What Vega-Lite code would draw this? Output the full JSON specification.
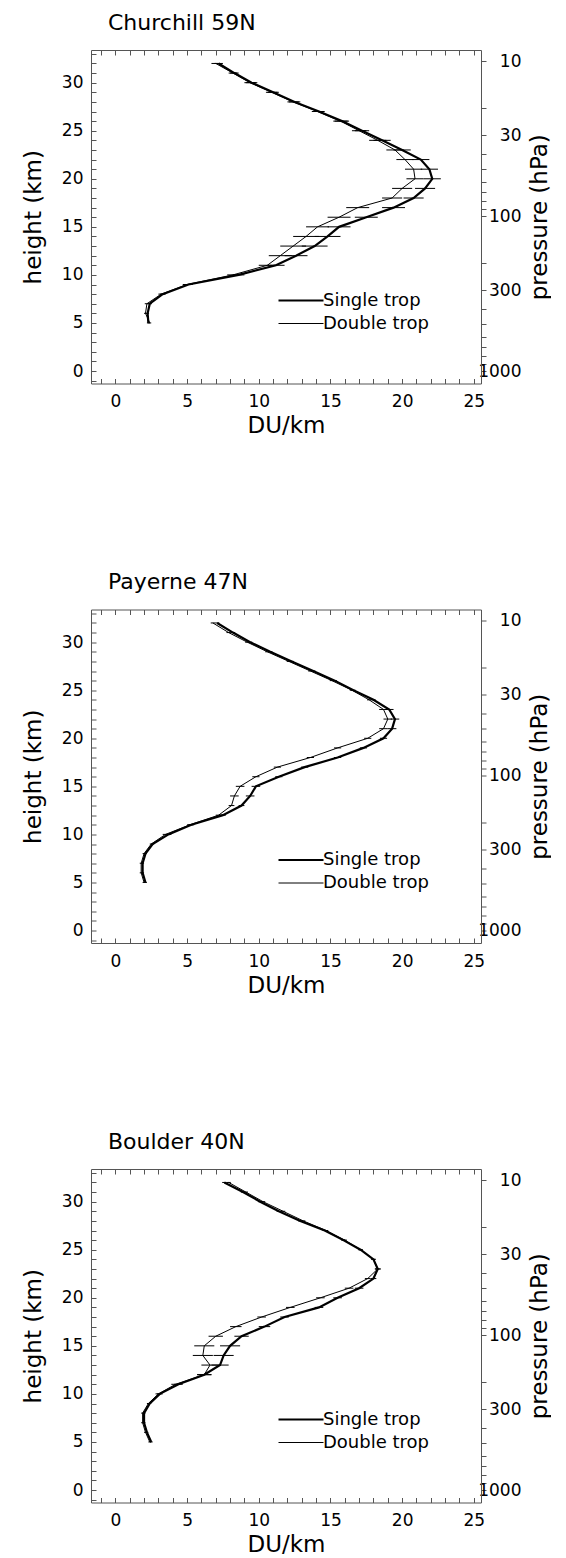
{
"$schema": "https://vega.github.io/schema/vega-lite/v6.json",
"padding": {"left": 22, "top": 11, "right": 0, "bottom": 0},
"datasets": {
"pax": [{"p": 10, "v": 0}, {"p": 1000, "v": 0}],
"prof": [
{"st":"Churchill","se":"Single trop","z":5,"v":2.3,"lo":2.2,"hi":2.4},
{"st":"Churchill","se":"Single trop","z":6,"v":2.25,"lo":2.15,"hi":2.35},
{"st":"Churchill","se":"Single trop","z":7,"v":2.4,"lo":2.25,"hi":2.55},
{"st":"Churchill","se":"Single trop","z":8,"v":3.3,"lo":3.1,"hi":3.5},
{"st":"Churchill","se":"Single trop","z":9,"v":5.1,"lo":4.8,"hi":5.4},
{"st":"Churchill","se":"Single trop","z":10,"v":8.6,"lo":8.2,"hi":9.0},
{"st":"Churchill","se":"Single trop","z":11,"v":11.2,"lo":10.6,"hi":11.8},
{"st":"Churchill","se":"Single trop","z":12,"v":12.6,"lo":11.8,"hi":13.4},
{"st":"Churchill","se":"Single trop","z":13,"v":13.9,"lo":13.0,"hi":14.8},
{"st":"Churchill","se":"Single trop","z":14,"v":14.8,"lo":13.9,"hi":15.7},
{"st":"Churchill","se":"Single trop","z":15,"v":15.6,"lo":14.8,"hi":16.4},
{"st":"Churchill","se":"Single trop","z":16,"v":17.5,"lo":16.7,"hi":18.3},
{"st":"Churchill","se":"Single trop","z":17,"v":19.4,"lo":18.6,"hi":20.2},
{"st":"Churchill","se":"Single trop","z":18,"v":20.8,"lo":20.1,"hi":21.5},
{"st":"Churchill","se":"Single trop","z":19,"v":21.6,"lo":20.9,"hi":22.3},
{"st":"Churchill","se":"Single trop","z":20,"v":22.1,"lo":21.5,"hi":22.7},
{"st":"Churchill","se":"Single trop","z":21,"v":21.9,"lo":21.3,"hi":22.5},
{"st":"Churchill","se":"Single trop","z":22,"v":21.3,"lo":20.7,"hi":21.9},
{"st":"Churchill","se":"Single trop","z":23,"v":20.0,"lo":19.4,"hi":20.6},
{"st":"Churchill","se":"Single trop","z":24,"v":18.6,"lo":18.0,"hi":19.2},
{"st":"Churchill","se":"Single trop","z":25,"v":17.2,"lo":16.7,"hi":17.7},
{"st":"Churchill","se":"Single trop","z":26,"v":15.8,"lo":15.3,"hi":16.3},
{"st":"Churchill","se":"Single trop","z":27,"v":14.2,"lo":13.8,"hi":14.6},
{"st":"Churchill","se":"Single trop","z":28,"v":12.5,"lo":12.1,"hi":12.9},
{"st":"Churchill","se":"Single trop","z":29,"v":11.0,"lo":10.6,"hi":11.4},
{"st":"Churchill","se":"Single trop","z":30,"v":9.5,"lo":9.1,"hi":9.9},
{"st":"Churchill","se":"Single trop","z":31,"v":8.3,"lo":8.0,"hi":8.6},
{"st":"Churchill","se":"Single trop","z":32,"v":7.2,"lo":6.9,"hi":7.5},
{"st":"Churchill","se":"Double trop","z":5,"v":2.4,"lo":2.3,"hi":2.5},
{"st":"Churchill","se":"Double trop","z":6,"v":2.1,"lo":2.0,"hi":2.2},
{"st":"Churchill","se":"Double trop","z":7,"v":2.2,"lo":2.05,"hi":2.35},
{"st":"Churchill","se":"Double trop","z":8,"v":3.2,"lo":3.0,"hi":3.4},
{"st":"Churchill","se":"Double trop","z":9,"v":5.0,"lo":4.7,"hi":5.3},
{"st":"Churchill","se":"Double trop","z":10,"v":8.2,"lo":7.8,"hi":8.6},
{"st":"Churchill","se":"Double trop","z":11,"v":10.6,"lo":10.0,"hi":11.2},
{"st":"Churchill","se":"Double trop","z":12,"v":11.5,"lo":10.7,"hi":12.3},
{"st":"Churchill","se":"Double trop","z":13,"v":12.4,"lo":11.5,"hi":13.3},
{"st":"Churchill","se":"Double trop","z":14,"v":13.3,"lo":12.4,"hi":14.2},
{"st":"Churchill","se":"Double trop","z":15,"v":14.1,"lo":13.3,"hi":14.9},
{"st":"Churchill","se":"Double trop","z":16,"v":15.6,"lo":14.8,"hi":16.4},
{"st":"Churchill","se":"Double trop","z":17,"v":16.9,"lo":16.1,"hi":17.7},
{"st":"Churchill","se":"Double trop","z":18,"v":19.3,"lo":18.6,"hi":20.0},
{"st":"Churchill","se":"Double trop","z":19,"v":20.0,"lo":19.3,"hi":20.7},
{"st":"Churchill","se":"Double trop","z":20,"v":20.9,"lo":20.3,"hi":21.5},
{"st":"Churchill","se":"Double trop","z":21,"v":20.8,"lo":20.2,"hi":21.4},
{"st":"Churchill","se":"Double trop","z":22,"v":20.2,"lo":19.6,"hi":20.8},
{"st":"Churchill","se":"Double trop","z":23,"v":19.5,"lo":18.9,"hi":20.1},
{"st":"Churchill","se":"Double trop","z":24,"v":18.3,"lo":17.7,"hi":18.9},
{"st":"Churchill","se":"Double trop","z":25,"v":17.0,"lo":16.5,"hi":17.5},
{"st":"Churchill","se":"Double trop","z":26,"v":15.7,"lo":15.2,"hi":16.2},
{"st":"Churchill","se":"Double trop","z":27,"v":14.1,"lo":13.7,"hi":14.5},
{"st":"Churchill","se":"Double trop","z":28,"v":12.4,"lo":12.0,"hi":12.8},
{"st":"Churchill","se":"Double trop","z":29,"v":10.9,"lo":10.5,"hi":11.3},
{"st":"Churchill","se":"Double trop","z":30,"v":9.4,"lo":9.0,"hi":9.8},
{"st":"Churchill","se":"Double trop","z":31,"v":8.2,"lo":7.9,"hi":8.5},
{"st":"Churchill","se":"Double trop","z":32,"v":7.0,"lo":6.7,"hi":7.3},
{"st":"Payerne","se":"Single trop","z":5,"v":2.1,"lo":2.0,"hi":2.2},
{"st":"Payerne","se":"Single trop","z":6,"v":1.9,"lo":1.8,"hi":2.0},
{"st":"Payerne","se":"Single trop","z":7,"v":1.9,"lo":1.8,"hi":2.0},
{"st":"Payerne","se":"Single trop","z":8,"v":2.1,"lo":2.0,"hi":2.2},
{"st":"Payerne","se":"Single trop","z":9,"v":2.6,"lo":2.5,"hi":2.7},
{"st":"Payerne","se":"Single trop","z":10,"v":3.7,"lo":3.5,"hi":3.9},
{"st":"Payerne","se":"Single trop","z":11,"v":5.3,"lo":5.1,"hi":5.5},
{"st":"Payerne","se":"Single trop","z":12,"v":7.5,"lo":7.3,"hi":7.7},
{"st":"Payerne","se":"Single trop","z":13,"v":8.8,"lo":8.6,"hi":9.0},
{"st":"Payerne","se":"Single trop","z":14,"v":9.4,"lo":9.1,"hi":9.7},
{"st":"Payerne","se":"Single trop","z":15,"v":9.8,"lo":9.5,"hi":10.1},
{"st":"Payerne","se":"Single trop","z":16,"v":11.4,"lo":11.15,"hi":11.65},
{"st":"Payerne","se":"Single trop","z":17,"v":13.2,"lo":12.95,"hi":13.45},
{"st":"Payerne","se":"Single trop","z":18,"v":15.5,"lo":15.25,"hi":15.75},
{"st":"Payerne","se":"Single trop","z":19,"v":17.3,"lo":17.05,"hi":17.55},
{"st":"Payerne","se":"Single trop","z":20,"v":18.7,"lo":18.45,"hi":18.95},
{"st":"Payerne","se":"Single trop","z":21,"v":19.3,"lo":19.0,"hi":19.6},
{"st":"Payerne","se":"Single trop","z":22,"v":19.5,"lo":19.2,"hi":19.8},
{"st":"Payerne","se":"Single trop","z":23,"v":19.1,"lo":18.8,"hi":19.4},
{"st":"Payerne","se":"Single trop","z":24,"v":18.0,"lo":17.85,"hi":18.15},
{"st":"Payerne","se":"Single trop","z":25,"v":16.6,"lo":16.45,"hi":16.75},
{"st":"Payerne","se":"Single trop","z":26,"v":15.3,"lo":15.15,"hi":15.45},
{"st":"Payerne","se":"Single trop","z":27,"v":13.8,"lo":13.65,"hi":13.95},
{"st":"Payerne","se":"Single trop","z":28,"v":12.3,"lo":12.15,"hi":12.45},
{"st":"Payerne","se":"Single trop","z":29,"v":10.8,"lo":10.65,"hi":10.95},
{"st":"Payerne","se":"Single trop","z":30,"v":9.4,"lo":9.25,"hi":9.55},
{"st":"Payerne","se":"Single trop","z":31,"v":8.2,"lo":8.05,"hi":8.35},
{"st":"Payerne","se":"Single trop","z":32,"v":7.1,"lo":6.95,"hi":7.25},
{"st":"Payerne","se":"Double trop","z":5,"v":2.0,"lo":1.9,"hi":2.1},
{"st":"Payerne","se":"Double trop","z":6,"v":1.8,"lo":1.7,"hi":1.9},
{"st":"Payerne","se":"Double trop","z":7,"v":1.8,"lo":1.7,"hi":1.9},
{"st":"Payerne","se":"Double trop","z":8,"v":2.0,"lo":1.9,"hi":2.1},
{"st":"Payerne","se":"Double trop","z":9,"v":2.5,"lo":2.4,"hi":2.6},
{"st":"Payerne","se":"Double trop","z":10,"v":3.5,"lo":3.3,"hi":3.7},
{"st":"Payerne","se":"Double trop","z":11,"v":5.2,"lo":5.0,"hi":5.4},
{"st":"Payerne","se":"Double trop","z":12,"v":7.2,"lo":7.0,"hi":7.4},
{"st":"Payerne","se":"Double trop","z":13,"v":8.1,"lo":7.9,"hi":8.3},
{"st":"Payerne","se":"Double trop","z":14,"v":8.3,"lo":8.0,"hi":8.6},
{"st":"Payerne","se":"Double trop","z":15,"v":8.7,"lo":8.4,"hi":9.0},
{"st":"Payerne","se":"Double trop","z":16,"v":9.8,"lo":9.55,"hi":10.05},
{"st":"Payerne","se":"Double trop","z":17,"v":11.3,"lo":11.05,"hi":11.55},
{"st":"Payerne","se":"Double trop","z":18,"v":13.6,"lo":13.35,"hi":13.85},
{"st":"Payerne","se":"Double trop","z":19,"v":15.5,"lo":15.25,"hi":15.75},
{"st":"Payerne","se":"Double trop","z":20,"v":17.6,"lo":17.35,"hi":17.85},
{"st":"Payerne","se":"Double trop","z":21,"v":18.7,"lo":18.4,"hi":19.0},
{"st":"Payerne","se":"Double trop","z":22,"v":19.0,"lo":18.7,"hi":19.3},
{"st":"Payerne","se":"Double trop","z":23,"v":18.7,"lo":18.4,"hi":19.0},
{"st":"Payerne","se":"Double trop","z":24,"v":17.7,"lo":17.55,"hi":17.85},
{"st":"Payerne","se":"Double trop","z":25,"v":16.5,"lo":16.35,"hi":16.65},
{"st":"Payerne","se":"Double trop","z":26,"v":15.1,"lo":14.95,"hi":15.25},
{"st":"Payerne","se":"Double trop","z":27,"v":13.6,"lo":13.45,"hi":13.75},
{"st":"Payerne","se":"Double trop","z":28,"v":12.1,"lo":11.95,"hi":12.25},
{"st":"Payerne","se":"Double trop","z":29,"v":10.6,"lo":10.45,"hi":10.75},
{"st":"Payerne","se":"Double trop","z":30,"v":9.2,"lo":9.05,"hi":9.35},
{"st":"Payerne","se":"Double trop","z":31,"v":7.9,"lo":7.75,"hi":8.05},
{"st":"Payerne","se":"Double trop","z":32,"v":6.8,"lo":6.65,"hi":6.95},
{"st":"Boulder","se":"Single trop","z":5,"v":2.5,"lo":2.4,"hi":2.6},
{"st":"Boulder","se":"Single trop","z":6,"v":2.2,"lo":2.1,"hi":2.3},
{"st":"Boulder","se":"Single trop","z":7,"v":2.0,"lo":1.9,"hi":2.1},
{"st":"Boulder","se":"Single trop","z":8,"v":2.0,"lo":1.9,"hi":2.1},
{"st":"Boulder","se":"Single trop","z":9,"v":2.4,"lo":2.3,"hi":2.5},
{"st":"Boulder","se":"Single trop","z":10,"v":3.1,"lo":2.9,"hi":3.3},
{"st":"Boulder","se":"Single trop","z":11,"v":4.4,"lo":4.1,"hi":4.7},
{"st":"Boulder","se":"Single trop","z":12,"v":6.2,"lo":5.7,"hi":6.7},
{"st":"Boulder","se":"Single trop","z":13,"v":7.3,"lo":6.7,"hi":7.9},
{"st":"Boulder","se":"Single trop","z":14,"v":7.55,"lo":6.85,"hi":8.25},
{"st":"Boulder","se":"Single trop","z":15,"v":8.0,"lo":7.3,"hi":8.7},
{"st":"Boulder","se":"Single trop","z":16,"v":8.8,"lo":8.3,"hi":9.3},
{"st":"Boulder","se":"Single trop","z":17,"v":10.4,"lo":10.0,"hi":10.8},
{"st":"Boulder","se":"Single trop","z":18,"v":11.8,"lo":11.5,"hi":12.1},
{"st":"Boulder","se":"Single trop","z":19,"v":14.2,"lo":13.9,"hi":14.5},
{"st":"Boulder","se":"Single trop","z":20,"v":15.5,"lo":15.2,"hi":15.8},
{"st":"Boulder","se":"Single trop","z":21,"v":17.0,"lo":16.7,"hi":17.3},
{"st":"Boulder","se":"Single trop","z":22,"v":18.0,"lo":17.8,"hi":18.2},
{"st":"Boulder","se":"Single trop","z":23,"v":18.3,"lo":18.1,"hi":18.5},
{"st":"Boulder","se":"Single trop","z":24,"v":18.0,"lo":17.85,"hi":18.15},
{"st":"Boulder","se":"Single trop","z":25,"v":17.1,"lo":16.95,"hi":17.25},
{"st":"Boulder","se":"Single trop","z":26,"v":15.9,"lo":15.75,"hi":16.05},
{"st":"Boulder","se":"Single trop","z":27,"v":14.6,"lo":14.45,"hi":14.75},
{"st":"Boulder","se":"Single trop","z":28,"v":12.9,"lo":12.75,"hi":13.05},
{"st":"Boulder","se":"Single trop","z":29,"v":11.4,"lo":11.25,"hi":11.55},
{"st":"Boulder","se":"Single trop","z":30,"v":10.1,"lo":9.95,"hi":10.25},
{"st":"Boulder","se":"Single trop","z":31,"v":8.9,"lo":8.75,"hi":9.05},
{"st":"Boulder","se":"Single trop","z":32,"v":7.6,"lo":7.45,"hi":7.75},
{"st":"Boulder","se":"Double trop","z":5,"v":2.4,"lo":2.3,"hi":2.5},
{"st":"Boulder","se":"Double trop","z":6,"v":2.1,"lo":2.0,"hi":2.2},
{"st":"Boulder","se":"Double trop","z":7,"v":1.9,"lo":1.8,"hi":2.0},
{"st":"Boulder","se":"Double trop","z":8,"v":1.9,"lo":1.8,"hi":2.0},
{"st":"Boulder","se":"Double trop","z":9,"v":2.3,"lo":2.2,"hi":2.4},
{"st":"Boulder","se":"Double trop","z":10,"v":3.0,"lo":2.8,"hi":3.2},
{"st":"Boulder","se":"Double trop","z":11,"v":4.2,"lo":3.9,"hi":4.5},
{"st":"Boulder","se":"Double trop","z":12,"v":6.2,"lo":5.7,"hi":6.7},
{"st":"Boulder","se":"Double trop","z":13,"v":6.6,"lo":6.0,"hi":7.2},
{"st":"Boulder","se":"Double trop","z":14,"v":6.1,"lo":5.4,"hi":6.8},
{"st":"Boulder","se":"Double trop","z":15,"v":6.2,"lo":5.5,"hi":6.9},
{"st":"Boulder","se":"Double trop","z":16,"v":7.0,"lo":6.5,"hi":7.5},
{"st":"Boulder","se":"Double trop","z":17,"v":8.4,"lo":8.0,"hi":8.8},
{"st":"Boulder","se":"Double trop","z":18,"v":10.2,"lo":9.9,"hi":10.5},
{"st":"Boulder","se":"Double trop","z":19,"v":12.2,"lo":11.9,"hi":12.5},
{"st":"Boulder","se":"Double trop","z":20,"v":14.3,"lo":14.0,"hi":14.6},
{"st":"Boulder","se":"Double trop","z":21,"v":16.3,"lo":16.0,"hi":16.6},
{"st":"Boulder","se":"Double trop","z":22,"v":17.6,"lo":17.4,"hi":17.8},
{"st":"Boulder","se":"Double trop","z":23,"v":18.3,"lo":18.1,"hi":18.5},
{"st":"Boulder","se":"Double trop","z":24,"v":18.0,"lo":17.85,"hi":18.15},
{"st":"Boulder","se":"Double trop","z":25,"v":17.1,"lo":16.95,"hi":17.25},
{"st":"Boulder","se":"Double trop","z":26,"v":16.0,"lo":15.85,"hi":16.15},
{"st":"Boulder","se":"Double trop","z":27,"v":14.7,"lo":14.55,"hi":14.85},
{"st":"Boulder","se":"Double trop","z":28,"v":13.1,"lo":12.95,"hi":13.25},
{"st":"Boulder","se":"Double trop","z":29,"v":11.7,"lo":11.55,"hi":11.85},
{"st":"Boulder","se":"Double trop","z":30,"v":10.3,"lo":10.15,"hi":10.45},
{"st":"Boulder","se":"Double trop","z":31,"v":9.1,"lo":8.95,"hi":9.25},
{"st":"Boulder","se":"Double trop","z":32,"v":7.9,"lo":7.75,"hi":8.05}
]
},
"vconcat": [
{
"title": {"text": "Churchill 59N"},
"width": 390, "height": 333.5,
"layer": [
{"data": {"name": "prof"}, "transform": [{"filter": "datum.st === 'Churchill'"}],
"layer": [
{"mark": {"type": "rule", "color": "black", "strokeWidth": 1},
"encoding": {"x": {"field": "lo", "type": "quantitative", "scale": {"domain": [-1.7, 25.5], "nice": false, "zero": false}, "axis": {"orient": "bottom", "values": [-1,0,1,2,3,4,5,6,7,8,9,10,11,12,13,14,15,16,17,18,19,20,21,22,23,24,25], "tickCount": 200, "format": "d", "labelExpr": "datum.value % 5 === 0 ? datum.label : ''", "labelOverlap": false, "tickSize": -5, "labelPadding": 15, "title": "DU/km", "titlePadding": 5}}, "x2": {"field": "hi"}, "y": {"field": "z", "type": "quantitative", "scale": {"domain": [-1.3, 33.4], "nice": false, "zero": false}, "axis": {"orient": "left", "values": [-1,0,1,2,3,4,5,6,7,8,9,10,11,12,13,14,15,16,17,18,19,20,21,22,23,24,25,26,27,28,29,30,31,32,33], "tickCount": 200, "format": "d", "labelExpr": "datum.value % 5 === 0 ? datum.label : ''", "labelOverlap": false, "tickSize": -5, "labelPadding": 13, "title": "height (km)", "titlePadding": 16}}}},
{"mark": {"type": "line", "color": "black"},
"encoding": {"x": {"field": "v", "type": "quantitative"}, "y": {"field": "z", "type": "quantitative"}, "order": {"field": "z", "type": "quantitative"},
"strokeWidth": {"field": "se", "type": "ordinal", "scale": {"domain": ["Single trop", "Double trop"], "range": [2.2, 1]}, "legend": {"orient": "none", "legendX": 186, "legendY": 239, "title": null, "symbolType": "stroke", "symbolSize": 2025, "symbolStrokeColor": "black", "labelFontSize": 18, "labelFont": "DejaVu Sans", "labelOffset": -2, "rowPadding": 0, "clipHeight": 23, "padding": 0}}}}
]},
{"data": {"name": "pax"}, "mark": {"type": "point", "opacity": 0},
"encoding": {"x": {"field": "v", "type": "quantitative", "scale": {"domain": [-1.7, 25.5], "nice": false, "zero": false}, "axis": {"orient": "top", "values": [-1,0,1,2,3,4,5,6,7,8,9,10,11,12,13,14,15,16,17,18,19,20,21,22,23,24,25], "tickCount": 200, "labels": false, "tickSize": -5, "title": null}},
"y": {"field": "p", "type": "quantitative", "scale": {"type": "log", "domain": [8.468, 1204.1], "reverse": true, "nice": false}, "axis": {"orient": "right", "values": [10,20,30,40,50,60,70,80,90,100,200,300,400,500,600,700,800,900,1000], "tickCount": 200, "format": "d", "labelExpr": "indexof([10,30,100,300,1000], datum.value) >= 0 ? datum.label : ''", "labelOverlap": false, "tickSize": 5, "labelAlign": "right", "labelPadding": 35, "title": "pressure (hPa)", "titleAngle": 270, "titleBaseline": "top", "titlePadding": 7}}}}
],
"resolve": {"scale": {"x": "independent", "y": "independent"}}
},
{
"title": {"text": "Payerne 47N"},
"width": 390, "height": 333.5,
"layer": [
{"data": {"name": "prof"}, "transform": [{"filter": "datum.st === 'Payerne'"}],
"layer": [
{"mark": {"type": "rule", "color": "black", "strokeWidth": 1},
"encoding": {"x": {"field": "lo", "type": "quantitative", "scale": {"domain": [-1.7, 25.5], "nice": false, "zero": false}, "axis": {"orient": "bottom", "values": [-1,0,1,2,3,4,5,6,7,8,9,10,11,12,13,14,15,16,17,18,19,20,21,22,23,24,25], "tickCount": 200, "format": "d", "labelExpr": "datum.value % 5 === 0 ? datum.label : ''", "labelOverlap": false, "tickSize": -5, "labelPadding": 15, "title": "DU/km", "titlePadding": 5}}, "x2": {"field": "hi"}, "y": {"field": "z", "type": "quantitative", "scale": {"domain": [-1.3, 33.4], "nice": false, "zero": false}, "axis": {"orient": "left", "values": [-1,0,1,2,3,4,5,6,7,8,9,10,11,12,13,14,15,16,17,18,19,20,21,22,23,24,25,26,27,28,29,30,31,32,33], "tickCount": 200, "format": "d", "labelExpr": "datum.value % 5 === 0 ? datum.label : ''", "labelOverlap": false, "tickSize": -5, "labelPadding": 13, "title": "height (km)", "titlePadding": 16}}}},
{"mark": {"type": "line", "color": "black"},
"encoding": {"x": {"field": "v", "type": "quantitative"}, "y": {"field": "z", "type": "quantitative"}, "order": {"field": "z", "type": "quantitative"},
"strokeWidth": {"field": "se", "type": "ordinal", "scale": {"domain": ["Single trop", "Double trop"], "range": [2.2, 1]}, "legend": {"orient": "none", "legendX": 186, "legendY": 239, "title": null, "symbolType": "stroke", "symbolSize": 2025, "symbolStrokeColor": "black", "labelFontSize": 18, "labelFont": "DejaVu Sans", "labelOffset": -2, "rowPadding": 0, "clipHeight": 23, "padding": 0}}}}
]},
{"data": {"name": "pax"}, "mark": {"type": "point", "opacity": 0},
"encoding": {"x": {"field": "v", "type": "quantitative", "scale": {"domain": [-1.7, 25.5], "nice": false, "zero": false}, "axis": {"orient": "top", "values": [-1,0,1,2,3,4,5,6,7,8,9,10,11,12,13,14,15,16,17,18,19,20,21,22,23,24,25], "tickCount": 200, "labels": false, "tickSize": -5, "title": null}},
"y": {"field": "p", "type": "quantitative", "scale": {"type": "log", "domain": [8.468, 1204.1], "reverse": true, "nice": false}, "axis": {"orient": "right", "values": [10,20,30,40,50,60,70,80,90,100,200,300,400,500,600,700,800,900,1000], "tickCount": 200, "format": "d", "labelExpr": "indexof([10,30,100,300,1000], datum.value) >= 0 ? datum.label : ''", "labelOverlap": false, "tickSize": 5, "labelAlign": "right", "labelPadding": 35, "title": "pressure (hPa)", "titleAngle": 270, "titleBaseline": "top", "titlePadding": 7}}}}
],
"resolve": {"scale": {"x": "independent", "y": "independent"}}
},
{
"title": {"text": "Boulder 40N"},
"width": 390, "height": 333.5,
"layer": [
{"data": {"name": "prof"}, "transform": [{"filter": "datum.st === 'Boulder'"}],
"layer": [
{"mark": {"type": "rule", "color": "black", "strokeWidth": 1},
"encoding": {"x": {"field": "lo", "type": "quantitative", "scale": {"domain": [-1.7, 25.5], "nice": false, "zero": false}, "axis": {"orient": "bottom", "values": [-1,0,1,2,3,4,5,6,7,8,9,10,11,12,13,14,15,16,17,18,19,20,21,22,23,24,25], "tickCount": 200, "format": "d", "labelExpr": "datum.value % 5 === 0 ? datum.label : ''", "labelOverlap": false, "tickSize": -5, "labelPadding": 15, "title": "DU/km", "titlePadding": 5}}, "x2": {"field": "hi"}, "y": {"field": "z", "type": "quantitative", "scale": {"domain": [-1.3, 33.4], "nice": false, "zero": false}, "axis": {"orient": "left", "values": [-1,0,1,2,3,4,5,6,7,8,9,10,11,12,13,14,15,16,17,18,19,20,21,22,23,24,25,26,27,28,29,30,31,32,33], "tickCount": 200, "format": "d", "labelExpr": "datum.value % 5 === 0 ? datum.label : ''", "labelOverlap": false, "tickSize": -5, "labelPadding": 13, "title": "height (km)", "titlePadding": 16}}}},
{"mark": {"type": "line", "color": "black"},
"encoding": {"x": {"field": "v", "type": "quantitative"}, "y": {"field": "z", "type": "quantitative"}, "order": {"field": "z", "type": "quantitative"},
"strokeWidth": {"field": "se", "type": "ordinal", "scale": {"domain": ["Single trop", "Double trop"], "range": [2.2, 1]}, "legend": {"orient": "none", "legendX": 186, "legendY": 239, "title": null, "symbolType": "stroke", "symbolSize": 2025, "symbolStrokeColor": "black", "labelFontSize": 18, "labelFont": "DejaVu Sans", "labelOffset": -2, "rowPadding": 0, "clipHeight": 23, "padding": 0}}}}
]},
{"data": {"name": "pax"}, "mark": {"type": "point", "opacity": 0},
"encoding": {"x": {"field": "v", "type": "quantitative", "scale": {"domain": [-1.7, 25.5], "nice": false, "zero": false}, "axis": {"orient": "top", "values": [-1,0,1,2,3,4,5,6,7,8,9,10,11,12,13,14,15,16,17,18,19,20,21,22,23,24,25], "tickCount": 200, "labels": false, "tickSize": -5, "title": null}},
"y": {"field": "p", "type": "quantitative", "scale": {"type": "log", "domain": [8.468, 1204.1], "reverse": true, "nice": false}, "axis": {"orient": "right", "values": [10,20,30,40,50,60,70,80,90,100,200,300,400,500,600,700,800,900,1000], "tickCount": 200, "format": "d", "labelExpr": "indexof([10,30,100,300,1000], datum.value) >= 0 ? datum.label : ''", "labelOverlap": false, "tickSize": 5, "labelAlign": "right", "labelPadding": 35, "title": "pressure (hPa)", "titleAngle": 270, "titleBaseline": "top", "titlePadding": 7}}}}
],
"resolve": {"scale": {"x": "independent", "y": "independent"}}
}
],
"spacing": 225.5,
"bounds": "flush",
"resolve": {"scale": {"strokeWidth": "independent"}, "legend": {"strokeWidth": "independent"}},
"config": {
"view": {"stroke": null},
"font": "DejaVu Sans",
"axis": {"domainColor": "#555555", "tickColor": "#555555", "domainWidth": 1, "tickWidth": 1, "ticks": true, "labelFont": "DejaVu Sans", "labelFontSize": 17, "labelColor": "#000000", "titleFont": "DejaVu Sans", "titleFontSize": 23, "titleFontWeight": "normal", "titleColor": "#000000", "grid": false, "labelFlush": false, "labelBound": false},
"title": {"font": "DejaVu Sans", "fontSize": 22, "fontWeight": "normal", "anchor": "start", "frame": "group", "color": "#000000", "dx": 17, "offset": 10},
"legend": {"labelColor": "#000000"}
}
}
